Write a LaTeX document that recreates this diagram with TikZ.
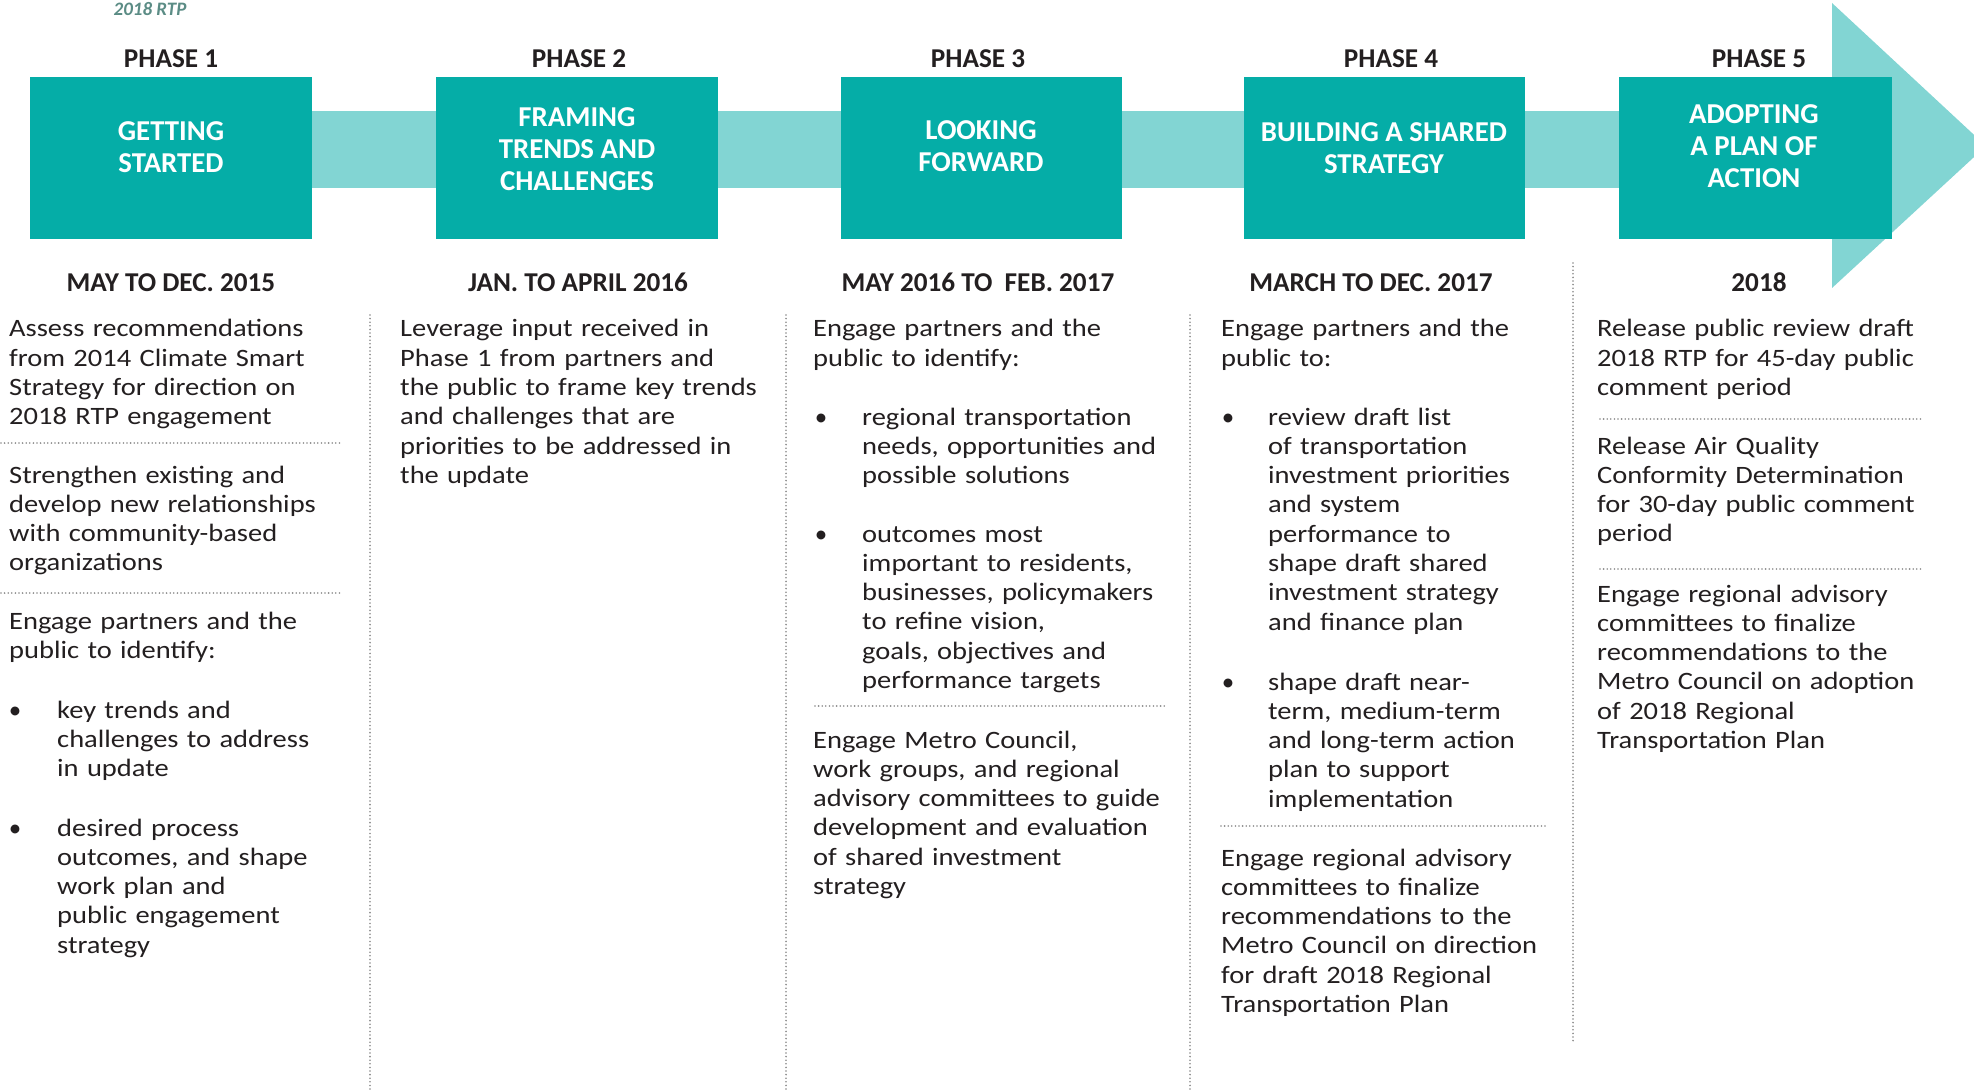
\documentclass[tikz,border=0pt]{standalone}
\usepackage{fontspec}
\setmainfont{Carlito}
\newfontfamily\bodyfont{Carlito}[FakeStretch=1.14]
\definecolor{tealA}{HTML}{05ADA7}
\definecolor{tealB}{HTML}{82D5D3}
\definecolor{ink}{HTML}{231F20}
\definecolor{dotgray}{HTML}{8A8A8A}
\definecolor{rtpcol}{HTML}{5B8C85}
\begin{document}
\begin{tikzpicture}[x=1pt,y=-1pt,
  boxfill/.style={fill=tealA, draw=none, inner sep=0pt, anchor=north west, minimum height=162pt},
  boxtext/.style={text=white, font=\fontsize{28.8}{31.7}\selectfont\bfseries, align=center, inner sep=0pt},
  headlbl/.style={anchor=base, text=ink, font=\fontsize{27.2}{30}\selectfont\bfseries, inner sep=0pt},
  body/.style={anchor=base west, text=ink, font=\bodyfont\fontsize{25}{29.3}\selectfont, align=left, inner sep=0pt, text width=420pt},
  bul/.style={anchor=base, text=ink, font=\fontsize{25}{29.3}\selectfont, inner sep=0pt},
  sepline/.style={draw=dotgray, line width=1.8pt, line cap=round, dash pattern=on 0pt off 3.6pt}
]
\useasboundingbox (0,0) rectangle (1974,1091);
\fill[white] (0,0) rectangle (1974,1091);

% arrow band and head
\fill[tealB] (200,111) rectangle (1833,188);
\fill[tealB] (1832,3) -- (1986,146) -- (1832,288) -- cycle;

% top-left label
\node[text=rtpcol, font=\fontsize{19}{21}\selectfont\bfseries\itshape, anchor=base, inner sep=0pt] (rtp) at (150,16) {2018 RTP};

% phase boxes
\node[boxfill, minimum width=282pt] (p1) at (30,77) {};
\node[boxfill, minimum width=282pt] (p2) at (436,77) {};
\node[boxfill, minimum width=281pt] (p3) at (841,77) {};
\node[boxfill, minimum width=281pt] (p4) at (1244,77) {};
\node[boxfill, minimum width=273pt] (p5) at (1619,77) {};

\node[boxtext] (p1t) at (171,147) {GETTING\\STARTED};
\node[boxtext] (p2t) at (577,149) {FRAMING\\TRENDS AND\\CHALLENGES};
\node[boxtext] (p3t) at (981,146) {LOOKING\\FORWARD};
\node[boxtext] (p4t) at (1384,148) {BUILDING A SHARED\\STRATEGY};
\node[boxtext] (p5t) at (1754,146) {ADOPTING\\A PLAN OF\\ACTION};

% phase labels
\node[headlbl] (h1) at (171,68) {PHASE 1};
\node[headlbl] (h2) at (579,68) {PHASE 2};
\node[headlbl] (h3) at (978,68) {PHASE 3};
\node[headlbl] (h4) at (1391,68) {PHASE 4};
\node[headlbl] (h5) at (1759,68) {PHASE 5};

% dates
\node[headlbl] (d1) at (171,292) {MAY TO DEC. 2015};
\node[headlbl] (d2) at (578,292) {JAN. TO APRIL 2016};
\node[headlbl] (d3) at (978,292) {MAY 2016 TO\ \ FEB. 2017};
\node[headlbl] (d4) at (1371,292) {MARCH TO DEC. 2017};
\node[headlbl] (d5) at (1759,292) {2018};

% vertical dotted dividers
\coordinate (v1a) at (370,315); \coordinate (v1b) at (370,1091);
\coordinate (v2a) at (786,315); \coordinate (v2b) at (786,1091);
\coordinate (v3a) at (1190,315); \coordinate (v3b) at (1190,1091);
\coordinate (v4a) at (1573,263); \coordinate (v4b) at (1573,1042);
\draw[sepline] (v1a) -- (v1b);
\draw[sepline] (v2a) -- (v2b);
\draw[sepline] (v3a) -- (v3b);
\draw[sepline] (v4a) -- (v4b);

% horizontal dotted separators
\coordinate (s1a) at (1,443); \coordinate (s1b) at (342,443);
\coordinate (s2a) at (1,593); \coordinate (s2b) at (342,593);
\coordinate (s3a) at (815,706); \coordinate (s3b) at (1165,706);
\coordinate (s4a) at (1221,826); \coordinate (s4b) at (1546,826);
\coordinate (s5a) at (1600,419); \coordinate (s5b) at (1922,419);
\coordinate (s6a) at (1600,569); \coordinate (s6b) at (1922,569);
\draw[sepline] (s1a) -- (s1b);
\draw[sepline] (s2a) -- (s2b);
\draw[sepline] (s3a) -- (s3b);
\draw[sepline] (s4a) -- (s4b);
\draw[sepline] (s5a) -- (s5b);
\draw[sepline] (s6a) -- (s6b);

% column 1
\node[body] (c1a) at (9,337) {Assess recommendations\\from 2014 Climate Smart\\Strategy for direction on\\2018 RTP engagement};
\node[body] (c1b) at (9,483) {Strengthen existing and\\develop new relationships\\with community-based\\organizations};
\node[body] (c1c) at (9,629) {Engage partners and the\\public to identify:};
\node[bul] (c1d1) at (15,718) {•};
\node[body] (c1d) at (57,718) {key trends and\\challenges to address\\in update};
\node[bul] (c1e1) at (15,836) {•};
\node[body] (c1e) at (57,836) {desired process\\outcomes, and shape\\work plan and\\public engagement\\strategy};

% column 2
\node[body] (c2a) at (400,337) {Leverage input received in\\Phase 1 from partners and\\the public to frame key trends\\and challenges that are\\priorities to be addressed in\\the update};

% column 3
\node[body] (c3a) at (813,337) {Engage partners and the\\public to identify:};
\node[bul] (c3b1) at (821,425) {•};
\node[body] (c3b) at (862,425) {regional transportation\\needs, opportunities and\\possible solutions};
\node[bul] (c3c1) at (821,542) {•};
\node[body] (c3c) at (862,542) {outcomes most\\important to residents,\\businesses, policymakers\\to refine vision,\\goals, objectives and\\performance targets};
\node[body] (c3d) at (813,748) {Engage Metro Council,\\work groups, and regional\\advisory committees to guide\\development and evaluation\\of shared investment\\strategy};

% column 4
\node[body] (c4a) at (1221,337) {Engage partners and the\\public to:};
\node[bul] (c4b1) at (1228,425) {•};
\node[body] (c4b) at (1268,425) {review draft list\\of transportation\\investment priorities\\and system\\performance to\\shape draft shared\\investment strategy\\and finance plan};
\node[bul] (c4c1) at (1228,690) {•};
\node[body] (c4c) at (1268,690) {shape draft near-\\term, medium-term\\and long-term action\\plan to support\\implementation};
\node[body] (c4d) at (1221,866) {Engage regional advisory\\committees to finalize\\recommendations to the\\Metro Council on direction\\for draft 2018 Regional\\Transportation Plan};

% column 5
\node[body] (c5a) at (1597,337) {Release public review draft\\2018 RTP for 45-day public\\comment period};
\node[body] (c5b) at (1597,454) {Release Air Quality\\Conformity Determination\\for 30-day public comment\\period};
\node[body] (c5c) at (1597,602) {Engage regional advisory\\committees to finalize\\recommendations to the\\Metro Council on adoption\\of 2018 Regional\\Transportation Plan};
\end{tikzpicture}
\end{document}
